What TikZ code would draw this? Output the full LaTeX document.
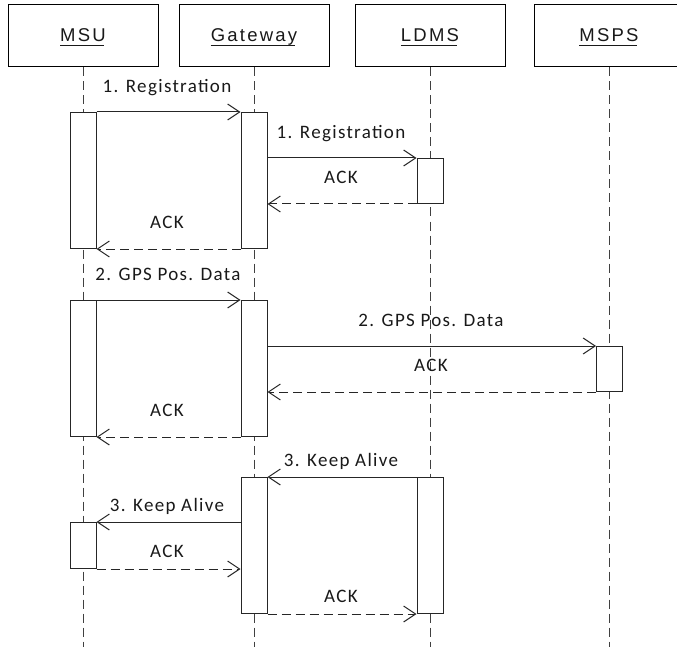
\documentclass[tikz,border=0pt]{standalone}
\usepackage{fontspec}
\usetikzlibrary{arrows.meta}
\newfontfamily\labelfont[LetterSpace=7]{Carlito}
\newfontfamily\headfont[LetterSpace=12]{Liberation Sans}
\begin{document}
\begin{tikzpicture}[x=1pt,y=-1pt,
  hbox/.style={draw=black,line width=1pt,minimum width=150pt,minimum height=62pt,inner sep=0pt,fill=white},
  htext/.style={font=\headfont\fontsize{18.5pt}{20pt}\selectfont,inner sep=0pt,anchor=base,text=black!90},
  act/.style={draw=black!85,line width=1pt,fill=white,minimum width=26pt,inner sep=0pt,anchor=north},
  life/.style={draw=black!75,line width=1pt,dash pattern=on 9pt off 5pt},
  msg/.style={draw=black!85,line width=1pt,-{Straight Barb[length=12pt,width=16pt,line width=1pt]}},
  reply/.style={msg,dash pattern=on 9pt off 5pt},
  lab/.style={font=\labelfont\fontsize{19pt}{21pt}\selectfont,inner sep=0pt,anchor=base,text=black!90},
  uline/.style={draw=black!90,line width=0.8pt}]
\useasboundingbox (0,0) rectangle (677,647);
\clip (0,0) rectangle (677,647);
% header boxes
\node[hbox] (MSU) at (83,36) {};
\node[hbox] (GW) at (254,36) {};
\node[hbox] (LDMS) at (430,36) {};
\node[hbox] (MSPS) at (609,36) {};
\node[htext] (tMSU) at (83,41.7) {MSU};
\node[htext] (tGW) at (254,41.7) {Gateway};
\node[htext] (tLDMS) at (430,41.7) {LDMS};
\node[htext] (tMSPS) at (609,41.7) {MSPS};
\foreach \t in {tMSU,tGW,tLDMS,tMSPS}
  \draw[uline] ([yshift=-3.4pt]\t.base west) -- ([yshift=-3.4pt,xshift=-2pt]\t.base east);
% lifeline ends
\coordinate (eM) at (83,647);
\coordinate (eG) at (254,647);
\coordinate (eL) at (430,647);
\coordinate (eP) at (609,647);
\draw[life] (MSU.south) -- (eM);
\draw[life] (GW.south) -- (eG);
\draw[life] (LDMS.south) -- (eL);
\draw[life] (MSPS.south) -- (eP);
% activation boxes
\node[act,minimum height=136pt] (aM1) at (83,112) {};
\node[act,minimum height=136pt] (aM2) at (83,300) {};
\node[act,minimum height=46pt] (aM3) at (83,522) {};
\node[act,minimum height=136pt] (aG1) at (254,112) {};
\node[act,minimum height=136pt] (aG2) at (254,300) {};
\node[act,minimum height=136pt] (aG3) at (254,477) {};
\node[act,minimum height=45pt] (aL1) at (430,158) {};
\node[act,minimum height=136pt] (aL2) at (430,477) {};
\node[act,minimum height=45pt] (aP1) at (609.5,346) {};
% group 1
\draw[msg] (aM1.north east) -- (aG1.north west);
\draw[msg] (aG1.east |- aL1.north) -- (aL1.north west);
\draw[reply] (aL1.south west) -- (aG1.east |- aL1.south);
\draw[reply] (aG1.south west) -- (aM1.south east);
\node[lab] (l1) at (167,92.5) {1. Registration};
\node[lab] (l2) at (341,139) {1. Registration};
\node[lab] (l3) at (341,184) {ACK};
\node[lab] (l4) at (167,229) {ACK};
% group 2
\draw[msg] (aM2.north east) -- (aG2.north west);
\draw[msg] (aG2.east |- aP1.north) -- (aP1.north west);
\draw[reply] (aP1.south west) -- (aG2.east |- aP1.south);
\draw[reply] (aG2.south west) -- (aM2.south east);
\node[lab] (l5) at (168,280.5) {2. GPS Pos. Data};
\node[lab] (l6) at (431,326) {2. GPS Pos. Data};
\node[lab] (l7) at (431,371.5) {ACK};
\node[lab] (l8) at (167,416.5) {ACK};
% group 3
\draw[msg] (aL2.north west) -- (aG3.north east);
\draw[msg] (aG3.west |- aM3.north) -- (aM3.north east);
\draw[reply] (aM3.south east) -- (aG3.west |- aM3.south);
\draw[reply] (aG3.south east) -- (aL2.south west);
\node[lab] (l9) at (341,466) {3. Keep Alive};
\node[lab] (l10) at (167,511.5) {3. Keep Alive};
\node[lab] (l11) at (167,557) {ACK};
\node[lab] (l12) at (341,602.5) {ACK};
\end{tikzpicture}
\end{document}
